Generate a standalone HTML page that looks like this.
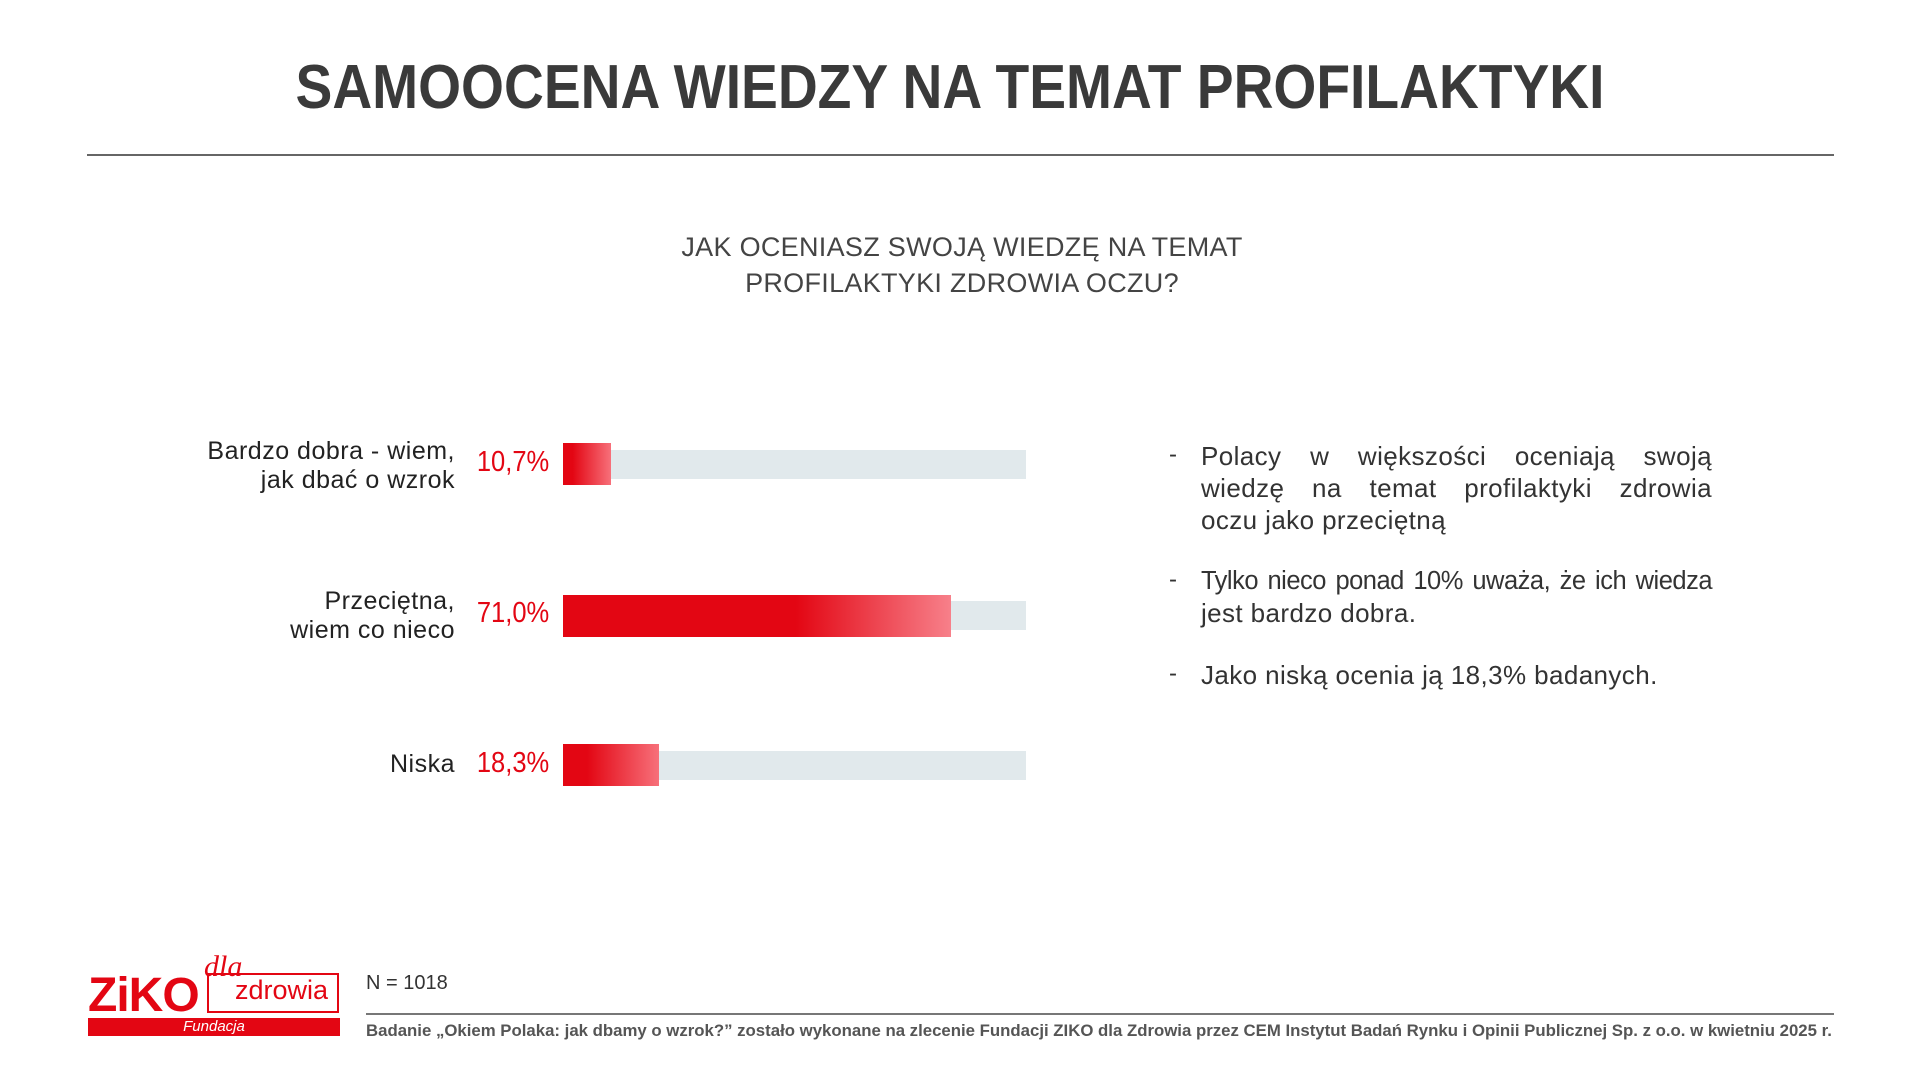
<!DOCTYPE html>
<html><head><meta charset="utf-8"><style>
*{margin:0;padding:0;box-sizing:border-box}
body{width:1920px;height:1080px;background:#fff;position:relative;overflow:hidden;font-family:"Liberation Sans",sans-serif;color:#333}
.a{position:absolute;white-space:nowrap}
#title{left:-10px;width:1920px;top:52px;text-align:center;font-size:62px;font-weight:bold;color:#3a3a3a;transform:scaleX(0.89)}
#hr{left:87px;top:154px;width:1747px;height:2px;background:#666}
.sub{left:0;width:1924px;text-align:center;font-size:27px;color:#444;letter-spacing:0.3px}
.lab{right:1465px;text-align:right;font-size:25px;color:#222;line-height:29px;letter-spacing:0.5px}
.pct{right:1371px;font-size:29px;color:#e30613;transform-origin:right;transform:scaleX(0.88)}
.track{left:563px;width:463px;height:29px;background:#e1e9ec}
.bar{left:563px;height:42px}
.txt{left:1201px;width:511px;font-size:26px;line-height:32px;color:#333;letter-spacing:0.4px}
.j{text-align:justify;text-align-last:justify}
.dash{left:1169px;font-size:24px;color:#333}
</style></head><body>
<div class="a" id="title">SAMOOCENA WIEDZY NA TEMAT PROFILAKTYKI</div>
<div class="a" id="hr"></div>
<div class="a sub" style="top:232px">JAK OCENIASZ SWOJĄ WIEDZĘ NA TEMAT</div>
<div class="a sub" style="top:268px">PROFILAKTYKI ZDROWIA OCZU?</div>

<div class="a lab" style="top:437px">Bardzo dobra - wiem,<br>jak dbać o wzrok</div>
<div class="a pct" style="top:446px">10,7%</div>
<div class="a track" style="top:450px"></div>
<div class="a bar" style="top:443px;width:48px;background:linear-gradient(90deg,#e30613 20%,#f7707a)"></div>

<div class="a lab" style="top:587px">Przeciętna,<br>wiem co nieco</div>
<div class="a pct" style="top:597px">71,0%</div>
<div class="a track" style="top:601px"></div>
<div class="a bar" style="top:595px;width:388px;background:linear-gradient(90deg,#e30613 60%,#f7808a)"></div>

<div class="a lab" style="top:750px">Niska</div>
<div class="a pct" style="top:747px">18,3%</div>
<div class="a track" style="top:751px"></div>
<div class="a bar" style="top:744px;width:96px;background:linear-gradient(90deg,#e30613 25%,#f7707a)"></div>

<div class="a dash" style="top:441px">-</div>
<div class="a txt j" style="top:440px">Polacy w większości oceniają swoją</div>
<div class="a txt j" style="top:472px">wiedzę na temat profilaktyki zdrowia</div>
<div class="a txt" style="top:504px">oczu jako przeciętną</div>
<div class="a dash" style="top:566px">-</div>
<div class="a txt j" style="top:565px;letter-spacing:-0.5px;font-size:25.5px">Tylko nieco ponad 10% uważa, że ich wiedza</div>
<div class="a txt" style="top:597px">jest bardzo dobra.</div>
<div class="a dash" style="top:660px">-</div>
<div class="a txt" style="top:659px">Jako niską ocenia ją 18,3% badanych.</div>

<!-- logo -->
<div class="a" style="left:88px;top:968px;font-size:48px;font-weight:bold;color:#e30613;letter-spacing:-1px">ZiKO</div>
<div class="a" style="left:204px;top:950px;font-size:30px;font-style:italic;color:#e30613;font-family:'Liberation Serif',serif">dla</div>
<div class="a" style="left:207px;top:973px;width:132px;height:40px;border:2px solid #e30613"></div>
<div class="a" style="left:235px;top:975px;font-size:27px;color:#e30613">zdrowia</div>
<div class="a" style="left:88px;top:1018px;width:252px;height:18px;background:#e30613;color:#fff;font-size:15px;font-style:italic;text-align:center;line-height:18px">Fundacja</div>

<div class="a" style="left:366px;top:972px;font-size:20px;color:#333">N = 1018</div>
<div class="a" style="left:366px;top:1013px;width:1468px;height:2px;background:#777"></div>
<div class="a" style="left:366px;top:1021px;font-size:16.8px;font-weight:bold;color:#555">Badanie „Okiem Polaka: jak dbamy o wzrok?” zostało wykonane na zlecenie Fundacji ZIKO dla Zdrowia przez CEM Instytut Badań Rynku i Opinii Publicznej Sp. z o.o. w kwietniu 2025 r.</div>
</body></html>
